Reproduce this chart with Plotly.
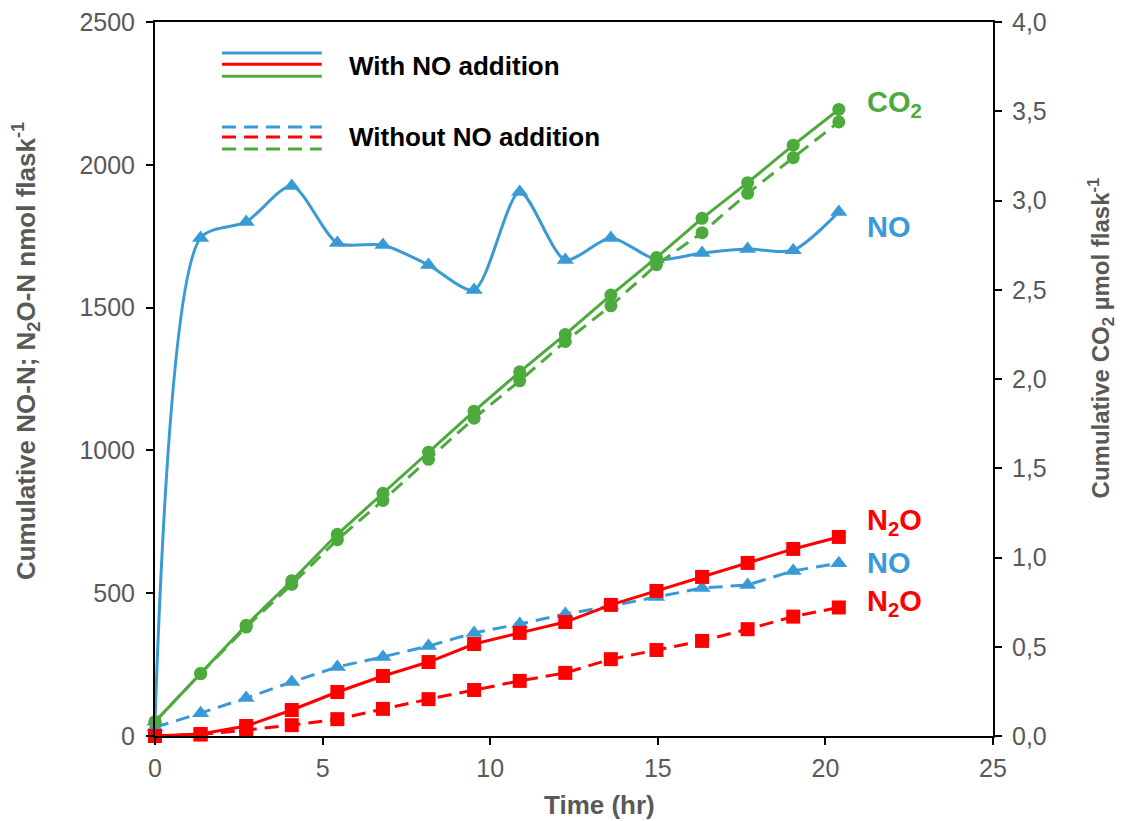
import plotly.graph_objects as go

# ---- data ----
time_hr = [0, 1.36, 2.72, 4.08, 5.44, 6.80, 8.16, 9.52, 10.88, 12.24, 13.60, 14.96, 16.32, 17.68, 19.04, 20.40]

no_with = [50, 1744, 1800, 1926, 1726, 1719, 1649, 1562, 1905, 1667, 1744, 1668, 1691, 1705, 1701, 1835]
no_without = [30, 80, 133, 189, 242, 277, 315, 361, 392, 427, 455, 487, 518, 529, 578, 605]
n2o_with = [0, 7, 35, 91, 154, 210, 259, 322, 361, 399, 459, 508, 557, 606, 655, 697]
n2o_without = [0, 5, 21, 38, 59, 95, 129, 161, 193, 221, 269, 301, 333, 374, 418, 450]
co2_with = [0.08, 0.35, 0.62, 0.87, 1.13, 1.36, 1.59, 1.82, 2.04, 2.25, 2.47, 2.68, 2.90, 3.10, 3.31, 3.51]
co2_without = [0.08, 0.35, 0.61, 0.85, 1.10, 1.32, 1.55, 1.78, 1.99, 2.21, 2.41, 2.64, 2.82, 3.04, 3.24, 3.44]

x_ticks = [0, 5, 10, 15, 20, 25]
y_ticks = [0, 500, 1000, 1500, 2000, 2500]
y2_ticks = [0, 0.5, 1.0, 1.5, 2.0, 2.5, 3.0, 3.5, 4.0]
y2_labels = ["0,0", "0,5", "1,0", "1,5", "2,0", "2,5", "3,0", "3,5", "4,0"]

BLUE = "#3A9AD6"
RED = "#FF0000"
GREEN = "#4DAA3C"
GRAY = "#595959"
FONT = "Arial, Liberation Sans, sans-serif"
NARROW = "Liberation Sans Narrow, Arial Narrow, Liberation Sans, sans-serif"
DASH = "14px,8px"

fig = go.Figure()

def add(y, color, symbol, size, dash=None, shape="linear", axis="y"):
    fig.add_trace(go.Scatter(
        x=time_hr, y=y, mode="lines+markers", yaxis=axis,
        line=dict(color=color, width=3, dash=dash, shape=shape, smoothing=0.75),
        marker=dict(color=color, symbol=symbol, size=size),
        cliponaxis=False, showlegend=False))

add(co2_without, GREEN, "circle", 13, dash=DASH, axis="y2")
add(co2_with, GREEN, "circle", 13, axis="y2")
add(no_without, BLUE, "triangle-up", 15, dash=DASH)
add(n2o_without, RED, "square", 14, dash=DASH)
add(no_with, BLUE, "triangle-up", 15, shape="spline")
add(n2o_with, RED, "square", 14)

# ---- legend (drawn) ----
x0, x1 = 0.080, 0.199
shapes = []
for yy, c in [(0.9566, BLUE), (0.941, RED), (0.924, GREEN)]:
    shapes.append(dict(type="line", xref="paper", yref="paper", x0=x0, x1=x1, y0=yy, y1=yy,
                       line=dict(color=c, width=3)))
for yy, c in [(0.853, BLUE), (0.839, RED), (0.822, GREEN)]:
    shapes.append(dict(type="line", xref="paper", yref="paper", x0=x0, x1=x1, y0=yy, y1=yy,
                       line=dict(color=c, width=3, dash=DASH)))

annotations = [
    dict(text="<b>With NO addition</b>", xref="paper", yref="paper", x=0.229, y=0.938,
         xanchor="left", yanchor="middle", showarrow=False, font=dict(family=FONT, size=26, color="black")),
    dict(text="<b>Without NO addition</b>", xref="paper", yref="paper", x=0.229, y=0.839,
         xanchor="left", yanchor="middle", showarrow=False, font=dict(family=FONT, size=26, color="black")),
]

labels = [
    ("CO<sub>2</sub>", 2213, GREEN),
    ("NO", 1782, BLUE),
    ("N<sub>2</sub>O", 749, RED),
    ("NO", 606, BLUE),
    ("N<sub>2</sub>O", 466, RED),
]
for txt, yv, c in labels:
    annotations.append(dict(text=f"<b>{txt}</b>", x=21.18, y=yv, xref="x", yref="y",
                            xanchor="left", yanchor="middle", showarrow=False,
                            font=dict(family=FONT, size=29, color=c)))

# axis titles as annotations
annotations.append(dict(text="<b>Cumulative NO-N; N<sub>2</sub>O-N nmol flask<sup>-1</sup></b>",
                        xref="paper", yref="paper", x=-0.154, y=0.539, xanchor="center", yanchor="middle",
                        textangle=-90, showarrow=False, font=dict(family=FONT, size=26, color=GRAY)))
annotations.append(dict(text="<b>Cumulative CO<sub>2</sub> µmol flask<sup>-1</sup></b>",
                        xref="paper", yref="paper", x=1.129, y=0.557, xanchor="center", yanchor="middle",
                        textangle=-90, showarrow=False, font=dict(family=NARROW, size=24, color=GRAY)))
annotations.append(dict(text="<b>Time (hr)</b>", xref="paper", yref="paper", x=0.531, y=-0.0966,
                        xanchor="center", yanchor="middle", showarrow=False,
                        font=dict(family=NARROW, size=26, color=GRAY)))

def axis_common(standoff):
    return dict(showgrid=False, zeroline=False, showline=True, linecolor="black", linewidth=2,
                ticks="outside", ticklen=7, tickwidth=2, tickcolor="black", ticklabelstandoff=standoff,
                ticklabeloverflow="allow", automargin=False,
                tickfont=dict(family=FONT, size=25, color=GRAY))

fig.update_layout(
    width=1115, height=813,
    margin=dict(l=147, r=130, t=14, b=85, autoexpand=False),
    paper_bgcolor="white", plot_bgcolor="white",
    xaxis=dict(range=[0, 25], tickvals=x_ticks, ticktext=[str(v) for v in x_ticks], mirror=True,
               **axis_common(2)),
    yaxis=dict(range=[0, 2500], tickvals=y_ticks, ticktext=[str(v) for v in y_ticks], **axis_common(6)),
    yaxis2=dict(range=[0, 4], tickvals=y2_ticks, ticktext=y2_labels, overlaying="y", side="right",
                **axis_common(5)),
    shapes=shapes, annotations=annotations,
)

fig.write_html("out.html")
